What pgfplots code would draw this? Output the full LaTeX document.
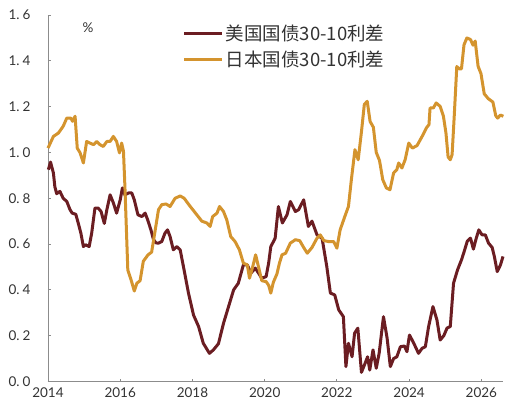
\documentclass[border=0pt]{standalone}
\usepackage{pgfplots}
\pgfplotsset{compat=1.18}
\usepackage{fontspec}
\setmainfont{Lato}
\newfontfamily\cjk{Noto Sans CJK SC}
\definecolor{usred}{HTML}{6B1D22}
\definecolor{jpgold}{HTML}{D4942E}
\definecolor{axgray}{HTML}{8C8C8C}
\definecolor{txt}{HTML}{333333}
\begin{document}
\begin{tikzpicture}
\begin{axis}[
  scale only axis,
  width=455pt, height=366.5pt,
  xmin=2014, xmax=2026.6,
  ymin=0, ymax=1.6,
  axis x line*=bottom, axis y line*=left,
  axis line style={axgray, line width=0.8pt, -},
  tick style={axgray, line width=0.8pt},
  tick align=inside, major tick length=3pt,
  xtick={2014,2016,2018,2020,2022,2024,2026},
  xticklabels={2014,2016,2018,2020,2022,2024,2026},
  ytick={0,0.2,0.4,0.6,0.8,1.0,1.2,1.4,1.6},
  yticklabels={0.\hspace{3pt}0,0.\hspace{3pt}2,0.\hspace{3pt}4,0.\hspace{3pt}6,0.\hspace{3pt}8,1.\hspace{3pt}0,1.\hspace{3pt}2,1.\hspace{3pt}4,1.\hspace{3pt}6},
  ticklabel style={font=\fontsize{13.5}{15}\selectfont, text=txt},
  yticklabel style={anchor=east, xshift=-14pt},
  xticklabel style={yshift=-3pt},
  legend style={at={(axis description cs:0.296,0.978)}, anchor=north west,
    draw=none, fill=none, font=\cjk\fontsize{18.5}{20}\selectfont, text=txt,
    row sep=5pt, inner sep=0pt, nodes={inner sep=2pt}},
  legend cell align=left,
  legend image code/.code={\draw[#1] (0pt,0pt) -- (38pt,0pt);},
  clip=false,
]
\addplot[usred, line width=3pt, line join=round] coordinates {
(2014.01,0.925) (2014.07,0.958) (2014.15,0.91) (2014.19,0.85) (2014.24,0.82)
(2014.33,0.83) (2014.42,0.80) (2014.52,0.786) (2014.61,0.75) (2014.67,0.735)
(2014.77,0.73) (2014.84,0.69) (2014.91,0.648) (2014.98,0.589) (2015.04,0.597)
(2015.14,0.589) (2015.21,0.648) (2015.30,0.757) (2015.39,0.757) (2015.47,0.742)
(2015.56,0.69) (2015.63,0.75) (2015.72,0.815) (2015.81,0.78) (2015.90,0.735)
(2016.00,0.793) (2016.06,0.845) (2016.13,0.815) (2016.23,0.823) (2016.32,0.823)
(2016.39,0.793) (2016.49,0.728) (2016.60,0.72) (2016.69,0.735) (2016.76,0.706)
(2016.85,0.662) (2016.92,0.62) (2016.99,0.605) (2017.06,0.604) (2017.15,0.611)
(2017.24,0.648) (2017.31,0.662) (2017.38,0.633) (2017.47,0.575) (2017.57,0.589)
(2017.66,0.575) (2017.75,0.502) (2017.89,0.386) (2018.03,0.29) (2018.17,0.24)
(2018.30,0.167) (2018.47,0.123) (2018.58,0.138) (2018.72,0.165) (2018.86,0.254)
(2019.00,0.327) (2019.14,0.40) (2019.27,0.429) (2019.41,0.509) (2019.52,0.509)
(2019.62,0.473) (2019.74,0.495) (2019.83,0.473) (2019.92,0.451) (2020.04,0.458)
(2020.11,0.517) (2020.17,0.589) (2020.29,0.625) (2020.38,0.764) (2020.49,0.692)
(2020.62,0.728) (2020.71,0.786) (2020.85,0.742) (2020.94,0.75) (2021.08,0.793)
(2021.21,0.677) (2021.31,0.70) (2021.45,0.64) (2021.59,0.625) (2021.72,0.502)
(2021.82,0.386) (2021.94,0.378) (2022.05,0.313) (2022.18,0.283) (2022.25,0.065)
(2022.32,0.167) (2022.42,0.108) (2022.49,0.211) (2022.58,0.233) (2022.68,0.04)
(2022.77,0.075) (2022.85,0.108) (2022.91,0.05) (2023.00,0.138) (2023.09,0.058)
(2023.17,0.123) (2023.29,0.283) (2023.39,0.19) (2023.48,0.065) (2023.57,0.10)
(2023.66,0.108) (2023.76,0.152) (2023.87,0.155) (2023.94,0.13) (2024.01,0.203)
(2024.12,0.17) (2024.26,0.123) (2024.36,0.145) (2024.45,0.152) (2024.54,0.24)
(2024.66,0.327) (2024.77,0.269) (2024.86,0.181) (2024.96,0.20) (2025.05,0.233)
(2025.14,0.24) (2025.23,0.429) (2025.34,0.487) (2025.45,0.531) (2025.51,0.56)
(2025.61,0.612) (2025.70,0.626) (2025.78,0.578) (2025.86,0.626) (2025.93,0.662)
(2026.02,0.64) (2026.11,0.64) (2026.20,0.604) (2026.30,0.585) (2026.36,0.546)
(2026.44,0.48) (2026.53,0.509) (2026.60,0.546)
};
\addlegendentry{美国国债30-10利差}
\addplot[jpgold, line width=3pt, line join=round] coordinates {
(2014.00,1.019) (2014.15,1.07) (2014.29,1.085) (2014.42,1.114) (2014.52,1.15)
(2014.63,1.15) (2014.68,1.136) (2014.75,1.158) (2014.81,1.019) (2014.89,0.998)
(2014.98,0.954) (2015.07,1.048) (2015.16,1.041) (2015.26,1.034) (2015.35,1.048)
(2015.44,1.034) (2015.53,1.026) (2015.63,1.048) (2015.72,1.048) (2015.81,1.07)
(2015.90,1.048) (2015.98,0.998) (2016.04,1.041) (2016.09,1.005) (2016.13,0.85)
(2016.21,0.487) (2016.30,0.444) (2016.39,0.395) (2016.46,0.429) (2016.55,0.44)
(2016.64,0.525) (2016.77,0.553) (2016.87,0.565) (2016.97,0.662) (2017.06,0.75)
(2017.15,0.772) (2017.27,0.775) (2017.38,0.764) (2017.52,0.80) (2017.66,0.81)
(2017.77,0.80) (2017.94,0.764) (2018.12,0.728) (2018.26,0.70) (2018.40,0.692)
(2018.49,0.677) (2018.56,0.72) (2018.68,0.735) (2018.75,0.764) (2018.86,0.742)
(2018.95,0.706) (2019.06,0.633) (2019.18,0.611) (2019.30,0.575) (2019.41,0.517)
(2019.52,0.509) (2019.58,0.451) (2019.67,0.502) (2019.75,0.553) (2019.85,0.487)
(2019.92,0.44) (2020.04,0.436) (2020.11,0.42) (2020.17,0.386) (2020.24,0.433)
(2020.34,0.47) (2020.41,0.517) (2020.48,0.553) (2020.58,0.56) (2020.71,0.604)
(2020.85,0.619) (2020.97,0.615) (2021.08,0.585) (2021.18,0.56) (2021.31,0.585)
(2021.45,0.626) (2021.54,0.64) (2021.64,0.615) (2021.77,0.611) (2021.91,0.611)
(2022.00,0.582) (2022.09,0.662) (2022.23,0.725) (2022.32,0.764) (2022.40,0.88)
(2022.50,1.012) (2022.59,0.968) (2022.68,1.09) (2022.76,1.21) (2022.84,1.223)
(2022.92,1.135) (2023.01,1.11) (2023.09,1.0) (2023.18,0.965) (2023.27,0.881)
(2023.37,0.845) (2023.47,0.837) (2023.57,0.91) (2023.66,0.925) (2023.71,0.954)
(2023.80,0.932) (2023.89,0.968) (2023.99,1.041) (2024.09,1.019) (2024.22,1.03)
(2024.36,1.07) (2024.49,1.11) (2024.55,1.121) (2024.58,1.194) (2024.67,1.194)
(2024.75,1.216) (2024.86,1.201) (2024.95,1.158) (2025.02,1.085) (2025.08,0.98)
(2025.14,0.968) (2025.19,0.99) (2025.25,1.16) (2025.32,1.375) (2025.39,1.365)
(2025.45,1.365) (2025.52,1.47) (2025.60,1.50) (2025.70,1.493) (2025.77,1.468)
(2025.83,1.486) (2025.91,1.376) (2025.99,1.344) (2026.08,1.256) (2026.19,1.235)
(2026.32,1.22) (2026.40,1.16) (2026.45,1.15) (2026.53,1.163) (2026.61,1.158)
};
\addlegendentry{日本国债30-10利差}
\node[font=\fontsize{13.5}{15}\selectfont, text=txt] at (rel axis cs:0.088,0.965) {\%};
\end{axis}
\pgfresetboundingbox
\path[use as bounding box] ([shift={(-48pt,-28.5pt)}]current axis.south west) rectangle ([shift={(10pt,15pt)}]current axis.north east);
\end{tikzpicture}
\end{document}
